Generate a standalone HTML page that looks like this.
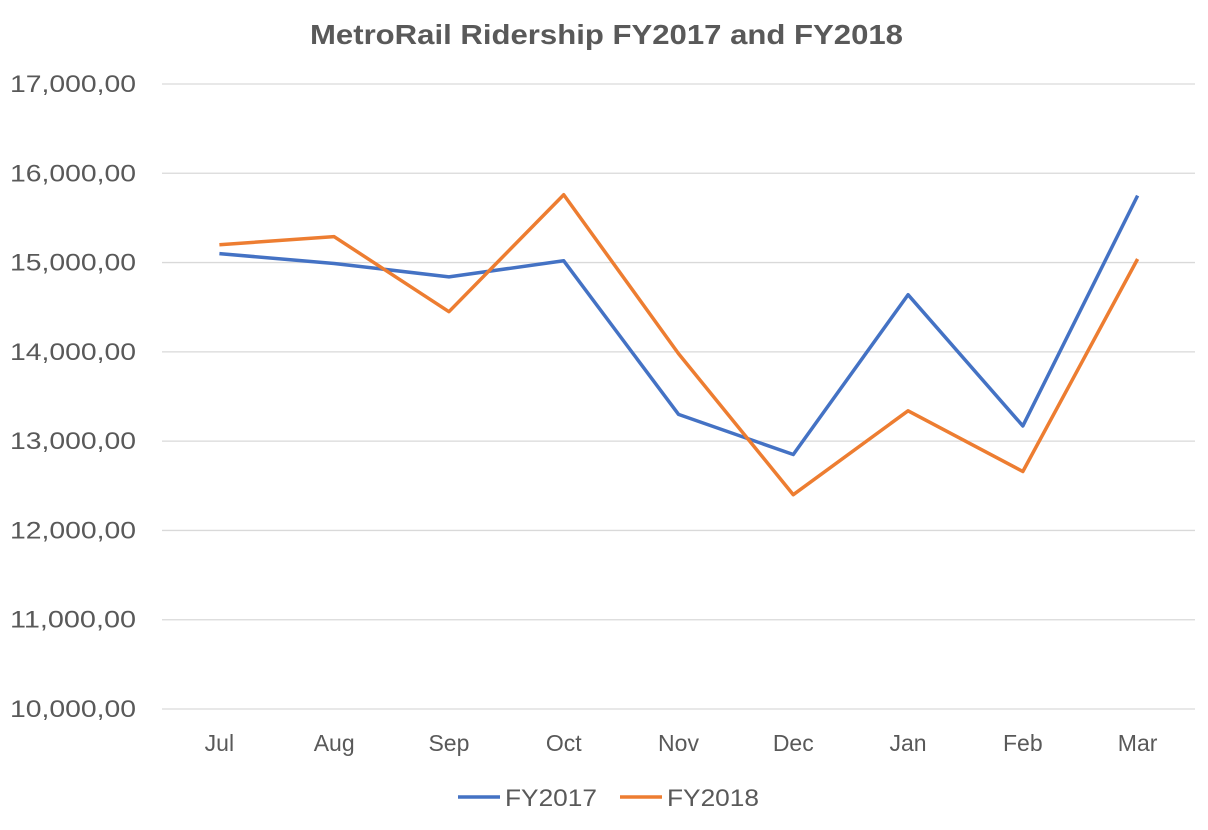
<!DOCTYPE html>
<html><head><meta charset="utf-8"><style>
body{margin:0;background:#fff;}
svg{display:block;font-family:"Liberation Sans",sans-serif;}
</style></head><body>
<svg id="chart" width="1208" height="830">
<text x="310" y="44" textLength="593" lengthAdjust="spacingAndGlyphs" font-size="28" font-weight="bold" fill="#595959">MetroRail Ridership FY2017 and FY2018</text>
<g id="grid"></g><g id="yticks"></g><g id="xticks"></g><g id="series"></g>
<g>
<line x1="458" y1="797" x2="500" y2="797" stroke="#4472C4" stroke-width="3.5"/>
<text x="505" y="806" textLength="92" lengthAdjust="spacingAndGlyphs" font-size="24" fill="#595959">FY2017</text>
<line x1="620" y1="797" x2="662" y2="797" stroke="#ED7D31" stroke-width="3.5"/>
<text x="667" y="806" textLength="92" lengthAdjust="spacingAndGlyphs" font-size="24" fill="#595959">FY2018</text>
</g>
</svg>
<script>
const categories=["Jul","Aug","Sep","Oct","Nov","Dec","Jan","Feb","Mar"];
const fy2017=[15100000,14990000,14840000,15020000,13300000,12850000,14640000,13170000,15750000];
const fy2018=[15200000,15290000,14450000,15760000,13980000,12400000,13340000,12660000,15040000];
const yTicks=[10000000,11000000,12000000,13000000,14000000,15000000,16000000,17000000];
const yTickLabels=["10,000,00","11,000,00","12,000,00","13,000,00","14,000,00","15,000,00","16,000,00","17,000,00"];
const NS="http://www.w3.org/2000/svg";
const L=162,R=1195,T=84,B=709,ymin=10000000,ymax=17000000;
const y=v=>B-(v-ymin)/(ymax-ymin)*(B-T);
const band=(R-L)/categories.length;
const x=i=>L+band*(i+0.5);
function mk(tag,attrs,parent){const e=document.createElementNS(NS,tag);for(const k in attrs)e.setAttribute(k,attrs[k]);document.getElementById(parent).appendChild(e);return e;}
yTicks.forEach((v,i)=>{
 const g=mk("line",{x1:L,x2:R,y1:y(v),y2:y(v),stroke:"#D9D9D9","stroke-width":1.3},"grid");
 
 
 const t=mk("text",{x:10,y:y(v)+8,textLength:126,lengthAdjust:"spacingAndGlyphs","font-size":24,fill:"#595959"},"yticks");
 t.textContent=yTickLabels[i];
 
 
});
categories.forEach((c,i)=>{
 const t=mk("text",{x:x(i),y:751,"text-anchor":"middle","font-size":23,fill:"#595959"},"xticks");
 t.textContent=c;
 
 
});
function line(data,color,name){
 const p=mk("polyline",{points:data.map((v,i)=>x(i)+","+y(v)).join(" "),fill:"none",stroke:color,"stroke-width":3.5,"stroke-linejoin":"round"},"series");
 
 
}
line(fy2017,"#4472C4","series-fy2017");
line(fy2018,"#ED7D31","series-fy2018");
</script>
</body></html>
